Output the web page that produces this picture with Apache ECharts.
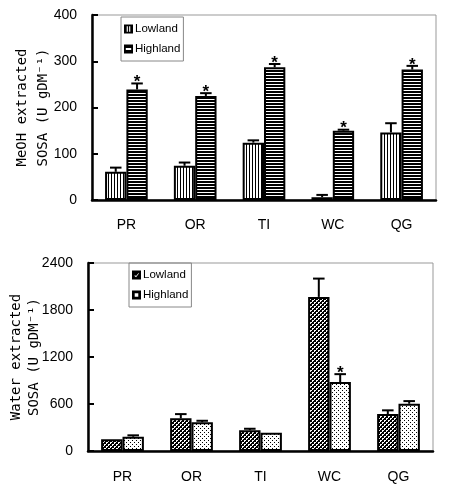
<!DOCTYPE html>
<html><head><meta charset="utf-8">
<script src="https://cdn.jsdelivr.net/npm/echarts@6/dist/echarts.min.js"></script>
<style>html,body{margin:0;padding:0;background:#fff}#c{width:450px;height:497px}</style>
</head><body><div id="c"></div>
<script>
// ---- data ----
const categories = ['PR', 'OR', 'TI', 'WC', 'QG'];
const seriesNames = ['Lowland', 'Highland'];
const meohLowland = [61, 74, 124, 6, 146];
const meohLowlandErr = [70, 81, 129, 11, 166];
const meohHighland = [239, 225, 287, 150, 282];
const meohHighlandErr = [252, 231, 294, 152, 290];
const meohHighlandSig = [1, 1, 1, 1, 1];
const meohTickLabels = ['0', '100', '200', '300', '400'];
const waterLowland = [149, 417, 264, 1967, 472];
const waterLowlandErr = [149, 471, 284, 2201, 519];
const waterHighland = [182, 366, 233, 880, 603];
const waterHighlandErr = [200, 386, 233, 981, 637];
const waterHighlandSig = [0, 0, 0, 1, 0];
const waterTickLabels = ['0', '600', '1200', '1800', '2400'];
const meohAxisTitle = 'MeOH extracted\nSOSA (U gDM\u207B\u00B9)';
const waterAxisTitle = 'Water extracted\nSOSA (U gDM\u207B\u00B9)';

// ---- styling helpers ----
const GAP = 0.38;
function pattern(w, h, bg, fg, rects) {
  const c = document.createElement('canvas');
  c.width = w; c.height = h;
  const ctx = c.getContext('2d');
  ctx.fillStyle = bg; ctx.fillRect(0, 0, w, h);
  ctx.fillStyle = fg;
  rects.forEach(r => ctx.fillRect(r[0], r[1], r[2], r[3]));
  return { image: c, repeat: 'repeat' };
}
const patVert = pattern(3, 3, '#fff', '#000', [[0, 0, 1, 3]]);
const patHorz = pattern(3, 3, '#000', '#fff', [[0, 0, 3, 1]]);
const patCross = pattern(4, 4, '#000', '#fff', [[0, 0, 2, 1], [0, 1, 1, 1], [2, 2, 2, 1], [2, 3, 1, 1]]);
const patDots = pattern(4, 4, '#fff', '#000', [[0, 0, 1, 1], [2, 2, 1, 1]]);

function errRender(side) {
  return function (params, api) {
    const i = api.value(0), v = api.value(1), e = api.value(2), s = api.value(3);
    const band = api.size([1, 0])[0];
    const bw = band * (1 - GAP) / 2;
    const cx = api.coord([i, 0])[0] + side * bw / 2;
    const pv = api.coord([i, v])[1];
    const pe = api.coord([i, e])[1];
    const ch = [];
    const st = { stroke: '#000', lineWidth: 2 };
    if (e > v) {
      ch.push({ type: 'line', shape: { x1: cx, y1: pv, x2: cx, y2: pe }, style: st });
      ch.push({ type: 'line', shape: { x1: cx - bw * 0.27, y1: pe, x2: cx + bw * 0.27, y2: pe }, style: st });
    }
    if (s) {
      ch.push({ type: 'text', x: cx, y: Math.min(pe, pv) - 1,
        style: { text: '*', fill: '#000', font: 'bold 17px "Liberation Sans"', align: 'center', verticalAlign: 'middle' } });
    }
    return { type: 'group', children: ch };
  };
}
function errData(vals, errs, sig) {
  return vals.map((v, i) => [i, v, errs[i], sig ? sig[i] : 0]);
}

const axisFont = { fontFamily: 'Liberation Sans', fontSize: 14, color: '#000' };
const catFont = { fontFamily: 'Liberation Sans', fontSize: 14, color: '#000' };

function yAxis(gi, ticks, title, gap, lh) {
  const max = Number(ticks[ticks.length - 1]);
  return {
    type: 'value', gridIndex: gi, min: 0, max: max, interval: Number(ticks[1]),
    name: title, nameLocation: 'middle', nameGap: gap, nameMoveOverlap: false,
    nameTextStyle: { fontFamily: 'DejaVu Sans Mono', fontSize: 14, color: '#000', lineHeight: lh },
    axisLine: { show: true, lineStyle: { color: '#000', width: 2.5 } },
    axisTick: { show: true, inside: true, length: 6, lineStyle: { color: '#000', width: 2 } },
    axisLabel: Object.assign({ margin: 15, formatter: v => String(v) }, axisFont),
    splitLine: { show: false }
  };
}
function xAxis(gi, margin) {
  return {
    type: 'category', gridIndex: gi, data: categories,
    axisLine: { lineStyle: { color: '#000', width: 2.5 } },
    axisTick: { show: false },
    axisLabel: Object.assign({ margin: margin }, catFont)
  };
}
function legend(left, top, icons) {
  return {
    left: left, top: top, orient: 'vertical', selectedMode: false,
    borderColor: '#888', borderWidth: 1, padding: [5, 3, 5, 3], itemGap: 6,
    itemWidth: 9, itemHeight: 9, itemStyle: { color: '#000', borderWidth: 0 },
    textStyle: { fontFamily: 'Liberation Sans', fontSize: 11.5, color: '#000', lineHeight: 14, padding: [0, 0, 0, -3] },
    data: seriesNames.map((n, k) => ({ name: n, icon: icons[k] }))
  };
}
const iconVert = 'path://M0,0H10V10H0Z M3,2V8H4.3V2Z M5.7,2V8H7V2Z';
const iconHorz = 'path://M0,0H10V10H0Z M2,4V6H8V4Z';
const iconCheck = 'path://M0,0H10V10H0Z M3,5V6.3L4.5,7.5L7.5,3.5V2.5L4.5,6Z';
const iconBox = 'path://M0,0H10V10H0Z M3,3V7H7V3Z';

function bar(name, xi, data, color) {
  return {
    type: 'bar', name: name, xAxisIndex: xi, yAxisIndex: xi, data: data,
    barGap: '0%', barCategoryGap: (GAP * 100) + '%',
    itemStyle: { color: color, borderColor: '#000', borderWidth: 2 },
    emphasis: { disabled: true }
  };
}
function errSeries(xi, side, vals, errs, sig) {
  return {
    type: 'custom', xAxisIndex: xi, yAxisIndex: xi, z: 5, silent: true,
    renderItem: errRender(side), data: errData(vals, errs, sig)
  };
}

const chart = echarts.init(document.getElementById('c'), null, { renderer: 'canvas' });
chart.setOption({
  animation: false,
  backgroundColor: '#fff',
  grid: [
    { left: 92, top: 15, right: 14, bottom: 297, show: true, borderColor: '#999', borderWidth: 1, containLabel: false, outerBoundsMode: 'none' },
    { left: 88, top: 263, right: 17, bottom: 46, show: true, borderColor: '#999', borderWidth: 1, containLabel: false, outerBoundsMode: 'none' }
  ],
  legend: [
    legend(121, 17, [iconVert, iconHorz]),
    legend(129, 263, [iconCheck, iconBox])
  ],
  xAxis: [xAxis(0, 18), xAxis(1, 19)],
  yAxis: [yAxis(0, meohTickLabels, meohAxisTitle, 38, 21), yAxis(1, waterTickLabels, waterAxisTitle, 45, 18)],
  series: [
    bar(seriesNames[0], 0, meohLowland, patVert),
    bar(seriesNames[1], 0, meohHighland, patHorz),
    errSeries(0, -1, meohLowland, meohLowlandErr, null),
    errSeries(0, 1, meohHighland, meohHighlandErr, meohHighlandSig),
    bar(seriesNames[0], 1, waterLowland, patCross),
    bar(seriesNames[1], 1, waterHighland, patDots),
    errSeries(1, -1, waterLowland, waterLowlandErr, null),
    errSeries(1, 1, waterHighland, waterHighlandErr, waterHighlandSig)
  ]
});
</script>
</body></html>
